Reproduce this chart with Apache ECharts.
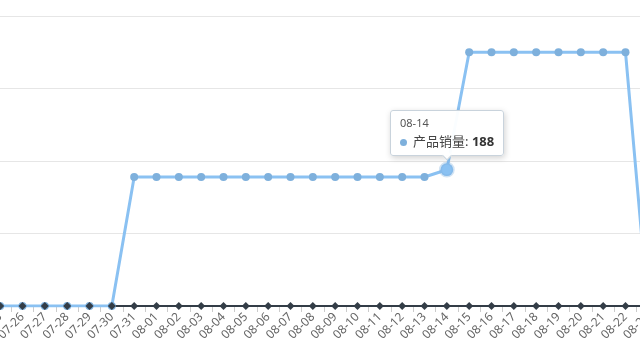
<!DOCTYPE html>
<html>
<head>
<meta charset="utf-8">
<script src="https://cdn.jsdelivr.net/npm/echarts@6/dist/echarts.min.js"></script>
<style>
  html, body { margin: 0; padding: 0; background: #fff; }
  #chart { width: 640px; height: 360px; }
</style>
</head>
<body>
<div id="chart"></div>
<script>
// categories (the reference is a crop, so the grid runs past both edges)
const days = [
  "07-25", "07-26", "07-27", "07-28", "07-29", "07-30", "07-31",
  "08-01", "08-02", "08-03", "08-04", "08-05", "08-06", "08-07",
  "08-08", "08-09", "08-10", "08-11", "08-12", "08-13", "08-14",
  "08-15", "08-16", "08-17", "08-18", "08-19", "08-20", "08-21",
  "08-22", "08-23"
];

// 产品销量
const sales = [
  0, 0, 0, 0, 0, 0, 178,
  178, 178, 178, 178, 178, 178, 178,
  178, 178, 178, 178, 178, 178, 188,
  350, 350, 350, 350, 350, 350, 350,
  350, 0
];

// second (dark) series sitting on the baseline
const other = [
  0, 0, 0, 0, 0, 0, 0,
  0, 0, 0, 0, 0, 0, 0,
  0, 0, 0, 0, 0, 0, 0,
  0, 0, 0, 0, 0, 0, 0,
  0, 0
];

const yTicks = [0, 100, 200, 300, 400];

const chart = echarts.init(document.getElementById("chart"));

const option = {
  animation: false,
  textStyle: { fontFamily: "'Noto Sans', 'Noto Sans CJK SC', sans-serif" },
  grid: {
    left: -11,
    right: -19,
    top: 16,
    bottom: 54,
    containLabel: false,
    outerBoundsMode: "none",
  },
  tooltip: {
    trigger: "item",
    triggerOn: "none",
    alwaysShowContent: true,
    position: "top",
    backgroundColor: "rgba(255,255,255,0.96)",
    borderColor: "#c9d3dc",
    borderWidth: 1,
    padding: [4, 9],
    extraCssText: "box-shadow: 1px 2px 6px rgba(0,0,0,0.18); border-radius: 3px;",
    formatter: function (p) {
      return (
        '<div style="font-size:11px;color:#555;line-height:16px;">' + p.name + "</div>" +
        '<div style="font-size:13px;color:#444;line-height:20px;">' +
        '<span style="display:inline-block;width:7px;height:7px;border-radius:50%;background:' +
        p.color + ';margin-right:6px;vertical-align:middle;"></span>' +
        p.seriesName + ': <b style="color:#333;">' + p.value + "</b></div>"
      );
    },
  },
  xAxis: {
    type: "category",
    data: days,
    boundaryGap: true,
    axisLine: { lineStyle: { color: "#333", width: 1 } },
    axisTick: { show: true, length: 6, lineStyle: { color: "#ccc" } },
    axisLabel: {
      rotate: 45,
      color: "#666",
      fontSize: 12,
      interval: 0,
      margin: 9,
      hideOverlap: false,
    },
  },
  yAxis: {
    type: "value",
    min: yTicks[0],
    max: yTicks[yTicks.length - 1],
    interval: 100,
    axisLine: { show: false },
    axisTick: { show: false },
    axisLabel: { show: false },
    splitLine: { lineStyle: { color: "#e6e6e6", width: 1 } },
  },
  series: [
    {
      name: "产品销量",
      type: "line",
      data: sales,
      symbol: "circle",
      symbolSize: 8,
      lineStyle: { color: "#7eb0dc", width: 3 },
      itemStyle: { color: "#7eb0dc" },
      emphasis: {
        scale: 1.6,
        itemStyle: { borderColor: "rgba(126,176,220,0.35)", borderWidth: 3 },
      },
    },
    {
      name: "其他",
      type: "line",
      data: other,
      symbol: "diamond",
      symbolSize: 8,
      lineStyle: { color: "#333d47", width: 2 },
      itemStyle: { color: "#333d47" },
      tooltip: { show: false },
    },
  ],
};

chart.setOption(option);

const hoverIndex = days.indexOf("08-14");
chart.dispatchAction({ type: "highlight", seriesIndex: 0, dataIndex: hoverIndex });
chart.dispatchAction({ type: "showTip", seriesIndex: 0, dataIndex: hoverIndex });
</script>
</body>
</html>
